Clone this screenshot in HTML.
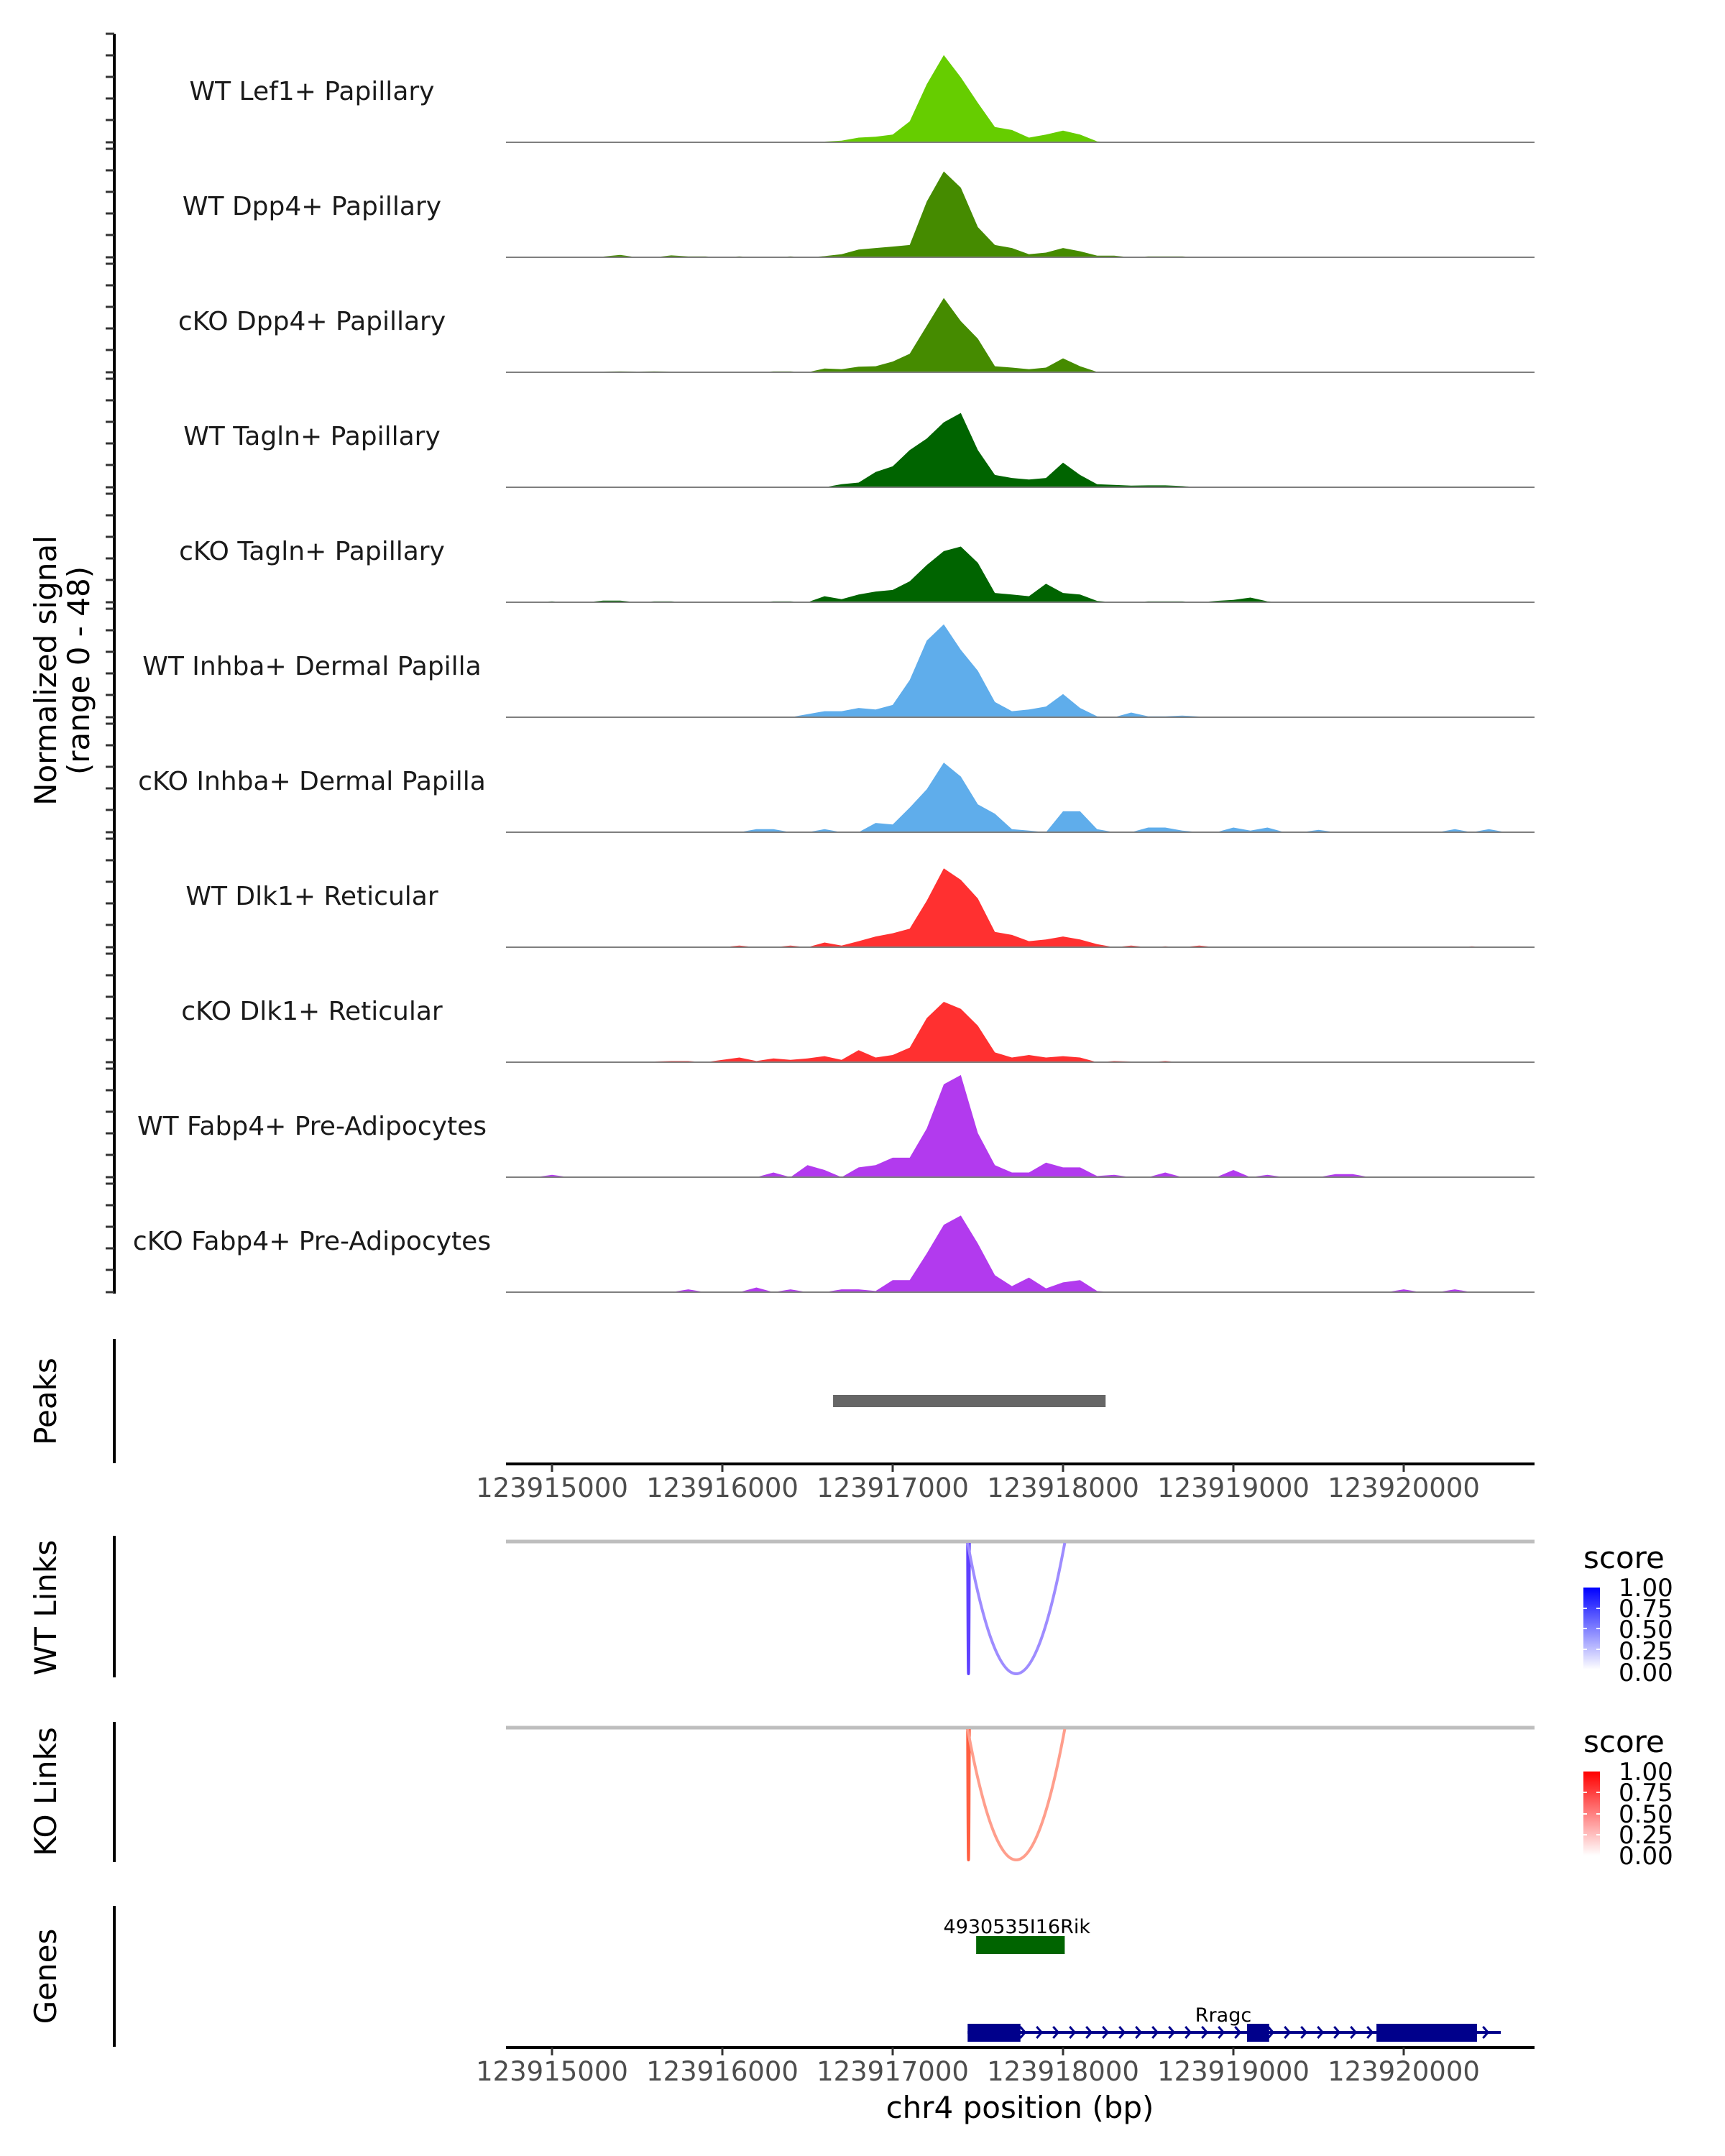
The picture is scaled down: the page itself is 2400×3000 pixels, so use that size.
<!DOCTYPE html>
<html><head><meta charset="utf-8"><style>
html,body{margin:0;padding:0;background:#fff}
svg{display:block;font-family:"DejaVu Sans","Liberation Sans",sans-serif}
</style></head><body>
<svg id="chart" width="2400" height="3000" viewBox="0 0 2400 3000" xmlns="http://www.w3.org/2000/svg">
<rect width="2400" height="3000" fill="#fff"/>
<g id="tracks"></g>
<g id="leftaxis"></g>
<text transform="translate(78,933) rotate(-90)" text-anchor="middle" font-size="42" fill="#000">Normalized signal</text>
<text transform="translate(124,933) rotate(-90)" text-anchor="middle" font-size="42" fill="#000">(range 0 - 48)</text>

<line x1="159" y1="1863" x2="159" y2="2036" stroke="#000" stroke-width="4"/>
<text transform="translate(78,1950) rotate(-90)" text-anchor="middle" font-size="42" fill="#000">Peaks</text>
<g id="peaks"></g>
<g id="xaxis1"></g>

<line x1="159" y1="2137" x2="159" y2="2334" stroke="#000" stroke-width="4"/>
<text transform="translate(78,2237) rotate(-90)" text-anchor="middle" font-size="42" fill="#000">WT Links</text>
<line x1="704" y1="2145" x2="2135" y2="2145" stroke="#bebebe" stroke-width="5"/>
<g id="wtlinks"></g>

<line x1="159" y1="2396" x2="159" y2="2591" stroke="#000" stroke-width="4"/>
<text transform="translate(78,2493) rotate(-90)" text-anchor="middle" font-size="42" fill="#000">KO Links</text>
<line x1="704" y1="2404" x2="2135" y2="2404" stroke="#bebebe" stroke-width="5"/>
<g id="kolinks"></g>

<defs>
<linearGradient id="gb" x1="0" y1="1" x2="0" y2="0"><stop offset="0" stop-color="#fff"/><stop offset="1" stop-color="#0000ff"/></linearGradient>
<linearGradient id="gr" x1="0" y1="1" x2="0" y2="0"><stop offset="0" stop-color="#fff"/><stop offset="1" stop-color="#ff0000"/></linearGradient>
</defs>
<g>
<text x="2203" y="2182" font-size="42" fill="#000">score</text>
<rect x="2203" y="2209" width="23" height="114" fill="url(#gb)"/>
<g stroke="#fff" stroke-width="2"><line x1="2203" y1="2238" x2="2208" y2="2238"/><line x1="2221" y1="2238" x2="2226" y2="2238"/><line x1="2203" y1="2266" x2="2208" y2="2266"/><line x1="2221" y1="2266" x2="2226" y2="2266"/><line x1="2203" y1="2295" x2="2208" y2="2295"/><line x1="2221" y1="2295" x2="2226" y2="2295"/></g>
<g font-size="34" fill="#000"><text x="2252" y="2221">1.00</text><text x="2252" y="2250">0.75</text><text x="2252" y="2279">0.50</text><text x="2252" y="2309">0.25</text><text x="2252" y="2339">0.00</text></g>
</g>
<g>
<text x="2203" y="2438" font-size="42" fill="#000">score</text>
<rect x="2203" y="2465" width="23" height="117" fill="url(#gr)"/>
<g stroke="#fff" stroke-width="2"><line x1="2203" y1="2494" x2="2208" y2="2494"/><line x1="2221" y1="2494" x2="2226" y2="2494"/><line x1="2203" y1="2524" x2="2208" y2="2524"/><line x1="2221" y1="2524" x2="2226" y2="2524"/><line x1="2203" y1="2553" x2="2208" y2="2553"/><line x1="2221" y1="2553" x2="2226" y2="2553"/></g>
<g font-size="34" fill="#000"><text x="2252" y="2477">1.00</text><text x="2252" y="2506">0.75</text><text x="2252" y="2536">0.50</text><text x="2252" y="2565">0.25</text><text x="2252" y="2594">0.00</text></g>
</g>

<line x1="159" y1="2652" x2="159" y2="2848" stroke="#000" stroke-width="4"/>
<text transform="translate(78,2750) rotate(-90)" text-anchor="middle" font-size="42" fill="#000">Genes</text>
<g id="genes"></g>
<g id="xaxis2"></g>
<text x="1419" y="2947" text-anchor="middle" font-size="42" fill="#000">chr4 position (bp)</text>
</svg>
<script>
const NS="http://www.w3.org/2000/svg";
const trackNames=["WT Lef1+ Papillary","WT Dpp4+ Papillary","cKO Dpp4+ Papillary","WT Tagln+ Papillary","cKO Tagln+ Papillary","WT Inhba+ Dermal Papilla","cKO Inhba+ Dermal Papilla","WT Dlk1+ Reticular","cKO Dlk1+ Reticular","WT Fabp4+ Pre-Adipocytes","cKO Fabp4+ Pre-Adipocytes"];
const trackColors=["#66cd00","#458b00","#458b00","#006400","#006400","#5fadeb","#5fadeb","#ff3030","#ff3030","#b23aee","#b23aee"];
const binStart=123914800;
const binSize=100;
const sLef1WT=[0,0,0,0,0,0,0,0,0,0, 0,0,0,0,0,0,0,0,0.3,0.7, 2,2.4,3.3,9,25,37.6,28,17,6.6,5.3, 2,3.3,5,3.3,0.4,0,0,0.3,0,0, 0,0.3,0,0,0,0,0,0,0,0, 0,0,0,0,0.2,0,0,0,0];
const sDpp4WT=[0,0,0,0.3,0,0.3,1,0,0,0.8, 0.4,0.4,0,0.4,0,0,0.4,0,0.5,1.3, 3.3,4,4.6,5.3,24,37,30,13,5.3,4, 1.3,2,4,2.6,0.7,0.7,0,0.4,0.4,0.4, 0,0,0,0,0,0,0,0,0,0, 0,0,0,0,0,0,0,0,0];
const sDpp4KO=[0,0,0.3,0,0.3,0.3,0.4,0.3,0.4,0.3, 0,0,0,0,0,0.4,0.4,0,1.6,1.3, 2.4,2.6,4.6,8,20,32,22,14.5,2.6,2, 1.3,2,6,2.6,0.2,0,0,0.3,0,0.3, 0,0,0,0,0.2,0,0,0,0,0, 0,0,0,0,0,0,0,0,0];
const sTaglnWT=[0,0,0,0,0,0,0,0,0,0, 0,0,0,0,0,0,0,0,0,1.3, 2,6.6,9,16,21,28,32,16,5.3,4, 3.3,4,10.6,5.3,1.3,1,0.7,0.8,0.8,0.5, 0,0,0,0,0,0,0,0,0,0, 0,0,0,0,0,0,0,0,0];
const sTaglnKO=[0,0,0.4,0,0,0.7,0.7,0,0.4,0.4, 0,0,0,0,0,0.4,0.4,0,2.6,1.3, 3.3,4.6,5.3,9,16,22,24,17,4,3.3, 2.6,8,4,3.3,0.6,0,0,0.4,0.4,0.4, 0,0.6,1,2,0.4,0,0,0,0,0, 0,0,0,0,0,0,0,0,0];
const sInhbaWT=[0,0,0.3,0,0,0,0,0,0,0, 0,0,0,0,0,0.3,0,1.3,2.6,2.6, 4,3.3,5.3,16,33,40,29,20,6.6,2.6, 3.3,4.6,10,4,0.4,0,2,0.4,0.4,0.7, 0.3,0,0,0,0,0,0,0.3,0.3,0.3, 0,0,0,0,0,0,0,0,0];
const sInhbaKO=[0,0,0,0,0,0,0,0,0,0, 0,0,0,0,1.3,1.3,0,0,1.3,0, 0,4,3.3,10.6,18.5,30,24,12,8,1.3, 0.7,0,9,9,1.3,0,0,2,2,0.7, 0,0,2,0.7,2,0,0,1,0,0, 0,0,0,0,0,1.3,0,1.3,0];
const sDlk1WT=[0,0,0,0,0,0,0,0,0,0, 0,0,0,0.7,0,0,0.7,0,2,0.7, 2.6,4.6,6,8,20,34,29,21,6.6,5.3, 2.6,3.3,4.6,3.3,1.3,0,0.7,0,0.4,0, 0.7,0,0,0,0.3,0,0,0,0,0, 0,0,0,0,0,0,0.4,0,0];
const sDlk1KO=[0,0,0,0,0,0.3,0,0,0.3,0.5, 0.5,0,1,2,0.5,1.6,1,1.6,2.6,1, 5.2,2,3.1,6.3,19,26,23,15.7,4.2,2, 3.1,2,2.6,2,0,0.5,0.3,0,0.5,0, 0.3,0.3,0,0,0,0.3,0,0,0,0, 0,0,0.3,0,0,0,0,0,0];
const sFabp4WT=[0,0,1,0,0,0,0,0,0,0, 0,0,0,0,0,2,0,5.2,3.1,0, 4.2,5.2,8.4,8.4,21,40,44,19,5.2,2, 2,6.3,4.2,4.2,0.5,1,0,0,2,0, 0,0,3.1,0,1,0,0,0,1.3,1.3, 0,0,0,0,0,0,0,0,0];
const sFabp4KO=[0,0,0,0,0,0,0,0,0,0, 1.2,0,0,0,2,0,1.2,0,0,1.2, 1.2,0.5,5.2,5.2,16.7,29,33,21,7.3,2.6, 6.3,1.6,4.2,5.2,0.5,0,0,0,0,0, 0,0,0,0,0,0,0,0,0,0, 0,0,1.2,0,0,1.2,0,0,0];
const series=[sLef1WT,sDpp4WT,sDpp4KO,sTaglnWT,sTaglnKO,sInhbaWT,sInhbaKO,sDlk1WT,sDlk1KO,sFabp4WT,sFabp4KO];
const xTicks=[123915000,123916000,123917000,123918000,123919000,123920000];
const peakRegions=[[123916650,123918250]];
const wtLinkStart=[123917440,123917440];
const wtLinkEnd=[123917450,123918010];
const wtLinkScore=[0.75,0.45];
const koLinkStart=[123917440,123917440];
const koLinkEnd=[123917450,123918010];
const koLinkScore=[0.75,0.45];
const geneNames=["4930535I16Rik","Rragc"];
const geneStart=[123917490,123917440];
const geneEnd=[123918010,123920570];
const rragcExonStart=[123917440,123919080,123919840];
const rragcExonEnd=[123917750,123919210,123920430];

function X(bp){return 768+(bp-123915000)*0.237;}
function Y(v,base){return base-v*3.23;}
function mk(tag,attrs,parent){const e=document.createElementNS(NS,tag);for(const k in attrs)e.setAttribute(k,attrs[k]);parent.appendChild(e);return e;}

const tracksG=document.getElementById('tracks');
const axG=document.getElementById('leftaxis');
const axLine=mk('line',{x1:159,y1:47,x2:159,y2:1800,stroke:'#000','stroke-width':4},axG);


for(let t=0;t<series.length;t++){
  const top=47+160*t, base=top+151;
  for(let k=0;k<6;k++){
    const tk=mk('line',{x1:147,y1:top+30*k+(k==5?1:0),x2:159,y2:top+30*k+(k==5?1:0),stroke:'#333','stroke-width':3},axG);
    
    
  }
  const vals=series[t];
  let d='M'+X(binStart).toFixed(1)+','+base;
  for(let i=0;i<vals.length;i++){d+=' L'+X(binStart+i*binSize).toFixed(1)+','+Y(vals[i],base).toFixed(1);}
  d+=' L'+X(binStart+(vals.length-1)*binSize).toFixed(1)+','+base+' Z';
  const p=mk('path',{d:d,fill:trackColors[t]},tracksG);
  
  
  const bl=mk('line',{x1:704,y1:base,x2:2135,y2:base,stroke:'#7f7f7f','stroke-width':2},tracksG);
  
  
  const lb=mk('text',{x:434,y:base-59,'text-anchor':'middle','font-size':36,fill:'#1a1a1a'},tracksG);
  lb.textContent=trackNames[t];
  
  
}
const pk=document.getElementById('peaks');
for(const r of peakRegions){
  const b=mk('rect',{x:X(r[0]),y:1941,width:X(r[1])-X(r[0]),height:17,fill:'#666'},pk);
  
  
}
function xaxis(id,y){
  const g=document.getElementById(id);
  const l=mk('line',{x1:704,y1:y,x2:2135,y2:y,stroke:'#000','stroke-width':4},g);
  
  
  for(const v of xTicks){
    const tk=mk('line',{x1:X(v),y1:y,x2:X(v),y2:y+11,stroke:'#333','stroke-width':3},g);
    
    
    const tx=mk('text',{x:X(v),y:y+46,'text-anchor':'middle','font-size':37,fill:'#4d4d4d'},g);
    tx.textContent=String(v);
    
    
  }
}
xaxis('xaxis1',2037);
xaxis('xaxis2',2849);
function links(id,starts,ends,scores,y0,depth,rgb){
  const g=document.getElementById(id);
  for(let i=0;i<starts.length;i++){
    const a=X(starts[i]),b=X(ends[i]),m=(a+b)/2;
    const s=scores[i];
    const c='rgb('+Math.round(255-(255-rgb[0])*s)+','+Math.round(255-(255-rgb[1])*s)+','+Math.round(255-(255-rgb[2])*s)+')';
    const p=mk('path',{d:'M'+a+','+y0+' Q'+m+','+(y0+2*depth)+' '+b+','+y0,fill:'none',stroke:c,'stroke-width':4},g);
    
    
  }
}
links('wtlinks',wtLinkStart,wtLinkEnd,wtLinkScore,2147,182,[40,0,255]);
links('kolinks',koLinkStart,koLinkEnd,koLinkScore,2406,182,[255,40,0]);

const gg=document.getElementById('genes');
const g1=mk('rect',{x:X(geneStart[0]),y:2694,width:X(geneEnd[0])-X(geneStart[0]),height:25,fill:'#006400'},gg);


const g1t=mk('text',{x:(X(geneStart[0])+X(geneEnd[0]))/2-5,y:2690,'text-anchor':'middle','font-size':27,fill:'#000'},gg);
g1t.textContent=geneNames[0];


const ln=mk('line',{x1:X(geneStart[1]),y1:2828,x2:X(geneEnd[1]),y2:2828,stroke:'#00008b','stroke-width':4},gg);


for(let x=X(geneStart[1])+8;x<X(geneEnd[1]);x+=23){
  const c=mk('polyline',{points:(x-4)+',2820 '+(x+3)+',2828 '+(x-4)+',2836',fill:'none',stroke:'#00008b','stroke-width':3},gg);
  
  
}
for(let i=0;i<rragcExonStart.length;i++){
  const e=mk('rect',{x:X(rragcExonStart[i]),y:2816,width:X(rragcExonEnd[i])-X(rragcExonStart[i]),height:25,fill:'#00008b'},gg);
  
  
}
const g2t=mk('text',{x:1702,y:2813,'text-anchor':'middle','font-size':27,fill:'#000'},gg);
g2t.textContent=geneNames[1];


</script>
</body></html>
